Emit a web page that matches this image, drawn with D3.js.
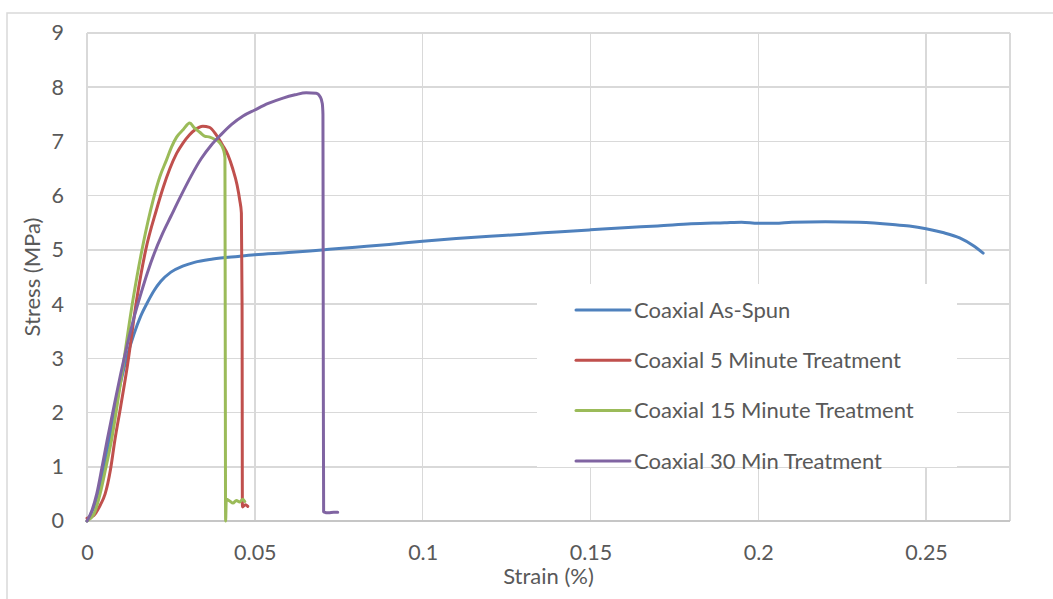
<!DOCTYPE html>
<html lang="en">
<head>
    <meta charset="UTF-8">
    <title>Stress-Strain Curves</title>
    <script src="https://d3js.org/d3.v7.min.js"></script>
    <style>
        body { margin: 0; background: #fff; }
        text { font-family: Lato, "Open Sans", sans-serif; fill: #595959; }
        .grid line { stroke: #d9d9d9; stroke-width: 1.5; shape-rendering: crispEdges; }
        .series { fill: none; stroke-width: 3; stroke-linejoin: round; stroke-linecap: round; }
    </style>
</head>
<body>
    <svg id="chart" width="1053" height="599"></svg>

    <script>
        // Series names, colours and axis ticks
        const seriesNames = ["Coaxial As-Spun", "Coaxial 5 Minute Treatment", "Coaxial 15 Minute Treatment", "Coaxial 30 Min Treatment"];
        const seriesColors = ["#4f81bd", "#c0504d", "#9bbb59", "#8064a2"];
        const xTicks = [0, 0.05, 0.1, 0.15, 0.2, 0.25];
        const yTicks = [0, 1, 2, 3, 4, 5, 6, 7, 8, 9];

        // [strain, stress]
        const asSpun = [
            [0, 0], [0.002, 0.25], [0.004, 0.7], [0.006, 1.3], [0.008, 1.95], [0.010, 2.55],
            [0.012, 3.05], [0.014, 3.45], [0.016, 3.78], [0.018, 4.03], [0.020, 4.25], [0.022, 4.42],
            [0.025, 4.59], [0.0285, 4.7], [0.032, 4.77], [0.0375, 4.83], [0.045, 4.88], [0.05, 4.91], [0.06, 4.95],
            [0.07, 5.0], [0.08, 5.05], [0.09, 5.1], [0.1, 5.16], [0.11, 5.21], [0.12, 5.25],
            [0.13, 5.29], [0.14, 5.33], [0.15, 5.37], [0.16, 5.41], [0.17, 5.44], [0.18, 5.48],
            [0.19, 5.5], [0.195, 5.51], [0.2, 5.49], [0.205, 5.49], [0.21, 5.51], [0.22, 5.52],
            [0.23, 5.51], [0.24, 5.47], [0.245, 5.44], [0.25, 5.39], [0.255, 5.32], [0.26, 5.22],
            [0.264, 5.08], [0.267, 4.94]
        ];
        const min5 = [
            [0, 0.05], [0.002, 0.1], [0.004, 0.3], [0.0054, 0.5], [0.007, 0.95], [0.0083, 1.49],
            [0.010, 2.1], [0.012, 2.85], [0.0148, 4.08], [0.0175, 5.0], [0.0207, 5.74],
            [0.0227, 6.15], [0.0247, 6.5], [0.0267, 6.78], [0.0286, 6.97], [0.0305, 7.12],
            [0.0321, 7.21], [0.0345, 7.28], [0.0365, 7.26], [0.0385, 7.12], [0.0404, 6.93],
            [0.042, 6.75], [0.0434, 6.5], [0.0447, 6.2], [0.0455, 5.92], [0.046, 5.68],
            [0.0462, 4.0], [0.0463, 0.26], [0.0472, 0.3], [0.0479, 0.27]
        ];
        const min15 = [
            [0, 0], [0.002, 0.12], [0.0039, 0.5], [0.0055, 0.95], [0.0073, 1.49], [0.010, 2.55],
            [0.0137, 4.08], [0.0167, 5.1], [0.0197, 5.92], [0.0217, 6.35], [0.0237, 6.66],
            [0.0252, 6.9], [0.0267, 7.08], [0.0287, 7.22], [0.0306, 7.34], [0.032, 7.25],
            [0.0336, 7.17], [0.035, 7.1], [0.0366, 7.08], [0.038, 7.04], [0.0395, 6.98],
            [0.0407, 6.84], [0.0411, 6.7], [0.0412, 3.0], [0.0413, 0.0], [0.0415, 0.4],
            [0.0425, 0.37], [0.0435, 0.33], [0.0445, 0.38], [0.0455, 0.35], [0.0464, 0.4], [0.047, 0.36]
        ];
        const min30 = [
            [0, 0], [0.0015, 0.2], [0.0029, 0.5], [0.0045, 1.0], [0.006, 1.49], [0.008, 2.1],
            [0.010, 2.7], [0.012, 3.25], [0.014, 3.75], [0.016, 4.18], [0.018, 4.58], [0.020, 4.93],
            [0.0225, 5.3], [0.025, 5.62], [0.028, 6.0], [0.031, 6.36], [0.034, 6.68], [0.037, 6.93],
            [0.040, 7.13], [0.043, 7.31], [0.0465, 7.47], [0.05, 7.58], [0.054, 7.7], [0.0584, 7.8],
            [0.062, 7.86], [0.0653, 7.9], [0.0683, 7.89], [0.0695, 7.82], [0.0701, 7.7], [0.0703, 7.5],
            [0.0704, 3.0], [0.0705, 0.17], [0.072, 0.15], [0.0735, 0.16], [0.0747, 0.16]
        ];
        const allSeries = [asSpun, min5, min15, min30];

        const svg = d3.select("#chart");
        const margin = { top: 33, right: 43, bottom: 78, left: 87 };
        const width = +svg.attr("width") - margin.left - margin.right;
        const height = +svg.attr("height") - margin.top - margin.bottom;

        // outer chart frame
        svg.append("rect")
            .attr("x", 7).attr("y", 13)
            .attr("width", 1060).attr("height", 600)
            .attr("fill", "none").attr("stroke", "#d9d9d9").attr("stroke-width", 1.5);

        const chart = svg.append("g").attr("transform", `translate(${margin.left},${margin.top})`);

        const x = d3.scaleLinear().domain([0, 0.275]).range([0, width]);
        const y = d3.scaleLinear().domain([0, 9]).range([height, 0]);

        // gridlines
        const grid = chart.append("g").attr("class", "grid");
        grid.selectAll(".h").data(yTicks).enter().append("line")
            .attr("x1", 0).attr("x2", width)
            .attr("y1", d => y(d)).attr("y2", d => y(d));
        grid.selectAll(".v").data(xTicks).enter().append("line")
            .attr("x1", d => x(d)).attr("x2", d => x(d))
            .attr("y1", 0).attr("y2", height);
        grid.append("line").attr("x1", width).attr("x2", width).attr("y1", 0).attr("y2", height);
        chart.append("line")
            .attr("x1", 0).attr("x2", width).attr("y1", height).attr("y2", height)
            .attr("stroke", "#bfbfbf").attr("stroke-width", 1.5);

        // axes (labels only)
        const xAxis = chart.append("g")
            .attr("transform", `translate(0,${height})`)
            .call(d3.axisBottom(x).tickValues(xTicks).tickSize(0).tickPadding(24).tickFormat(d3.format("")));
        const yAxis = chart.append("g")
            .call(d3.axisLeft(y).tickValues(yTicks).tickSize(0).tickPadding(23));
        [xAxis, yAxis].forEach(a => {
            a.select(".domain").remove();
            a.selectAll("text").attr("font-size", 21.5).attr("font-family", null);
        });

        // lines
        const line = d3.line()
            .x(d => x(d[0]))
            .y(d => y(d[1]))
            .curve(d3.curveMonotoneX);

        chart.selectAll(".series").data(allSeries).enter().append("path")
            .attr("class", "series")
            .attr("stroke", (d, i) => seriesColors[i])
            .attr("d", line);

        // axis titles
        svg.append("text")
            .attr("x", margin.left + width / 2).attr("y", 584)
            .attr("text-anchor", "middle").attr("font-size", 22)
            .text("Strain (%)");
        svg.append("text")
            .attr("transform", `translate(40,${margin.top + height / 2}) rotate(-90)`)
            .attr("text-anchor", "middle").attr("font-size", 22)
            .text("Stress (MPa)");

        // legend
        const legend = svg.append("g");
        legend.append("rect")
            .attr("x", 537).attr("y", 284).attr("width", 420).attr("height", 183)
            .attr("fill", "#fff");
        const items = legend.selectAll(".item").data(seriesNames).enter().append("g")
            .attr("transform", (d, i) => `translate(576,${310 + i * 50.3})`);
        items.append("line")
            .attr("x1", 0).attr("x2", 54)
            .attr("stroke", (d, i) => seriesColors[i])
            .attr("stroke-width", 3).attr("stroke-linecap", "round");
        items.append("text")
            .attr("x", 58).attr("dy", "0.35em")
            .attr("font-size", 22)
            .text(d => d);
    </script>
</body>
</html>
